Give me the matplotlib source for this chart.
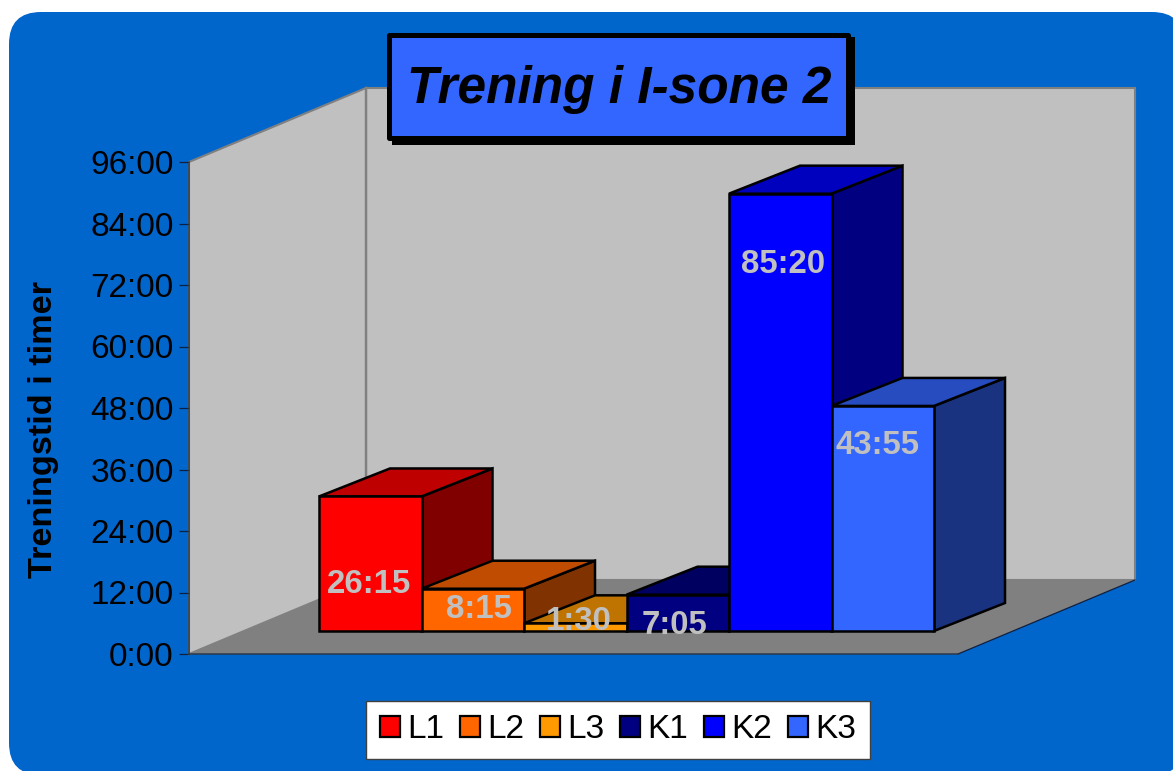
import matplotlib
matplotlib.use("Agg")
import matplotlib.pyplot as plt
from matplotlib.patches import FancyBboxPatch, Polygon, Rectangle
from matplotlib.transforms import Affine2D

categories = ["L1", "L2", "L3", "K1", "K2", "K3"]
durations = ["26:15", "8:15", "1:30", "7:05", "85:20", "43:55"]
tick_labels = ["0:00", "12:00", "24:00", "36:00", "48:00", "60:00", "72:00", "84:00", "96:00"]
title = "Trening i I-sone 2"
y_title = "Treningstid i timer"

front_colors = ["#FF0000", "#FF6600", "#FF9900", "#000080", "#0000FF", "#3366FF"]
top_colors = ["#BF0000", "#BF4C00", "#BF7300", "#000060", "#0000BF", "#264CBF"]
side_colors = ["#800000", "#803300", "#804C00", "#000040", "#000080", "#193380"]
# label offset from the bar's front-top centre, in pixels
label_offsets = [(-1, 88), (6.5, 21), (4, -2), (-3.5, 31), (2.5, 71), (-5.5, 40)]


def to_hours(s):
    h, m = s.split(":")
    return int(h) + int(m) / 60


hours = [to_hours(s) for s in durations]
ticks = [to_hours(s) for s in tick_labels]

W, H = 1173, 771
plt.rcParams["font.family"] = ["Liberation Sans", "DejaVu Sans"]
fig = plt.figure(figsize=(W / 100, H / 100), dpi=100, facecolor="white")
px = Affine2D().scale(1, -1).translate(0, H)  # reference pixel coordinates

L, R, T, B = 189, 958, 162, 654
ax = fig.add_axes([L / W, (H - B) / H, (R - L) / W, (B - T) / H])
PPC, PPH = 102.5, (B - T) / 96
ax.set_xlim(-(264 - L) / PPC, (R - 264) / PPC)
ax.set_ylim(0, 96)
ax.patch.set_visible(False)

DX, DY = 177 / PPC, 74 / PPH


def P(c, h, d):
    return (c + d * DX, h + d * DY)


x0, x1 = ax.get_xlim()

ax.add_patch(FancyBboxPatch((9, 12), 1175, 763, boxstyle="round,pad=0,rounding_size=32",
                            transform=px, fc="#0066CC", ec="none", clip_on=False, zorder=0))

wall = dict(fc="#C0C0C0", ec="#808080", lw=1.5, clip_on=False, zorder=1, joinstyle="miter")
ax.add_patch(Polygon([P(x0, 0, 1), P(x1, 0, 1), P(x1, 96, 1), P(x0, 96, 1)], **wall))
ax.add_patch(Polygon([P(x0, 0, 0), P(x0, 0, 1), P(x0, 96, 1), P(x0, 96, 0)], **wall))
ax.add_patch(Polygon([P(x0, 0, 0), P(x0, 0, 1), P(x1, 0, 1), P(x1, 0, 0)],
                     fc="#808080", ec="none", clip_on=False, zorder=1.2))
ax.plot([x1, x1 + DX], [0, DY], color="#102040", lw=0.9, clip_on=False, zorder=1.3)
ax.plot([x0 + DX] * 2, [DY, 96 + DY], color="#808080", lw=1.7, clip_on=False, zorder=1.3)

D0 = 55 / 177
BDX, BDY = 71 / PPC, 28 / PPH  # bar depth vector, data units
bar_style = dict(ec="black", lw=1.8, clip_on=False, joinstyle="miter")
for i, h in enumerate(hours):
    z = 3 + i * 0.1
    fx, fy = P(0, 0, D0)

    def Q(c, v, back):
        return (c + fx + (BDX if back else 0), v + fy + (BDY if back else 0))

    ax.add_patch(Polygon([Q(i + 1, 0, 0), Q(i + 1, 0, 1), Q(i + 1, h, 1), Q(i + 1, h, 0)],
                         fc=side_colors[i], zorder=z, **bar_style))
    ax.add_patch(Polygon([Q(i, h, 0), Q(i + 1, h, 0), Q(i + 1, h, 1), Q(i, h, 1)],
                         fc=top_colors[i], zorder=z, **bar_style))
    ax.add_patch(Polygon([Q(i, 0, 0), Q(i + 1, 0, 0), Q(i + 1, h, 0), Q(i, h, 0)],
                         fc=front_colors[i], zorder=z, **bar_style))
    ox, oy = label_offsets[i]
    ax.annotate(durations[i], xy=Q(i + 0.5, h, 0), xytext=(ox * 0.72, -oy * 0.72),
                textcoords="offset points", ha="center", va="center", color="#C0C0C0",
                fontsize=23.8, fontweight="bold", zorder=6, annotation_clip=False)

for s in ("top", "right"):
    ax.spines[s].set_visible(False)
for s in ("left", "bottom"):
    ax.spines[s].set_color("#2A3A4A")
    ax.spines[s].set_linewidth(1.1)
ax.set_xticks([])
ax.set_yticks(ticks, tick_labels)
ax.tick_params(axis="y", length=7.4, width=0.9, color="#102040", pad=3.6, labelsize=24, labelcolor="black")
ax.set_ylabel(y_title, fontsize=24.7, fontweight="bold", color="black", va="center")
ax.yaxis.set_label_coords((44 - L) / (R - L), (B - 430) / (B - T))

# title box
ax.add_patch(Rectangle((392, 37), 463, 108, transform=px, fc="black", ec="none", clip_on=False, zorder=7))
ax.add_patch(Rectangle((388.5, 34.5), 459, 103, transform=px, fc="#3366FF", ec="black", lw=3.6,
                       clip_on=False, zorder=7.1, joinstyle="round"))
ttl = ax.set_title(title, fontsize=37, fontweight="bold", fontstyle="italic", color="black",
                   x=(619 - L) / (R - L), y=(B - 90) / (B - T), va="center", ha="center", pad=0)
ttl.set_zorder(8)

handles = [Rectangle((0, 0), 1, 1, fc=c, ec="black", lw=1.6) for c in front_colors]
leg = ax.legend(handles, categories, loc="center", bbox_to_anchor=(618, 730), bbox_transform=px,
                ncols=6, fontsize=24, frameon=True, fancybox=False, framealpha=1,
                facecolor="white", edgecolor="#404040", borderaxespad=0, borderpad=0.41,
                handlelength=0.6, handleheight=0.6, handletextpad=0.22, columnspacing=0.47)
leg.get_frame().set_linewidth(1.0)
leg.set_zorder(8)

fig.savefig("out.png", dpi=100, facecolor="white")
